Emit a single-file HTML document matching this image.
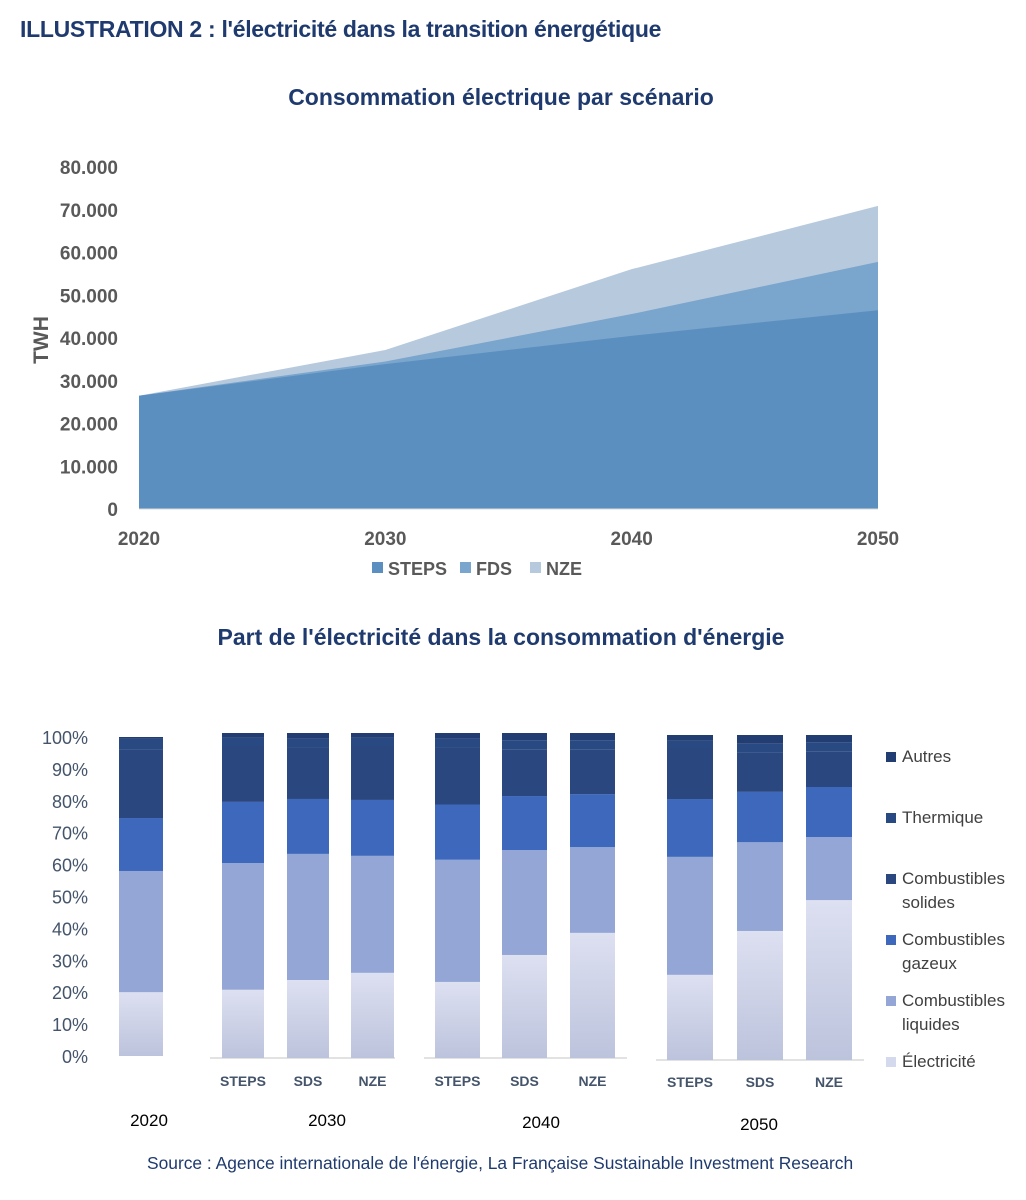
<!DOCTYPE html>
<html><head><meta charset="utf-8">
<style>
html,body{margin:0;padding:0;background:#fff;}
body{width:1026px;height:1200px;position:relative;overflow:hidden;font-family:"Liberation Sans",sans-serif;}
.t{position:absolute;white-space:nowrap;}
</style></head>
<body>
<div class="t" style="left:20px;top:16px;font-size:23px;font-weight:bold;color:#1f3a6e;letter-spacing:-0.3px">ILLUSTRATION 2 : l'électricité dans la transition énergétique</div>
<svg id="topchart" width="1026" height="600" style="position:absolute;left:0;top:0"></svg>
<svg id="botchart" width="1026" height="600" style="position:absolute;left:0;top:600px"></svg>
<div class="t" style="left:147px;top:1153px;font-size:17.4px;color:#1f3a6e">Source : Agence internationale de l'énergie, La Française Sustainable Investment Research</div>
<script>
const NS="http://www.w3.org/2000/svg";
// ---- top chart data
const years=[2020,2030,2040,2050];
const steps=[26500,33900,40500,46500];
const fds=[26500,34500,45600,57800];
const nze=[26500,37200,56100,70900];
const yTicks=[0,10000,20000,30000,40000,50000,60000,70000,80000];
const yTickLabels=["0","10.000","20.000","30.000","40.000","50.000","60.000","70.000","80.000"];
// ---- bottom chart data
const barCats=["2020","STEPS","SDS","NZE","STEPS","SDS","NZE","STEPS","SDS","NZE"];
const elec=[20,21,24,26.2,23.4,31.7,38.5,26.2,39.7,49.2];
const liquides=[38,39,38.8,36,37.6,32.3,26.4,36.3,27.3,19.4];
const gazeux=[16.6,18.8,16.9,17.2,17,16.6,16.3,17.8,15.5,15.4];
const solides=[21.6,17.2,15.7,16.6,17.4,14.4,13.8,15.7,12,11];
const thermique=[3.3,2.5,2.8,2.5,2.8,2.8,2.8,2.2,2.8,2.8];
const autres=[0.5,1.5,1.8,1.5,1.8,2.2,2.2,1.8,2.7,2.2];
const pctTicks=[0,10,20,30,40,50,60,70,80,90,100];

function el(svg,tag,attrs){const e=document.createElementNS(NS,tag);for(const k in attrs)e.setAttribute(k,attrs[k]);svg.appendChild(e);return e;}

const topSvg=document.getElementById('topchart');
const x0=139,x1=878,yb=509,yt=167;
const xs=i=>x0+(x1-x0)*(years[i]-2020)/30;
const ys=v=>yb-(yb-yt)*v/80000;
function area(vals,color,name){
  let d="M"+xs(0)+","+yb;
  vals.forEach((v,i)=>{d+=" L"+xs(i)+","+ys(v);});
  d+=" L"+xs(vals.length-1)+","+yb+" Z";
  const p=el(topSvg,'path',{d:d,fill:color});
  
  
}
area(nze,'#b7c9dd','area-nze');
area(fds,'#7aa5cc','area-fds');
area(steps,'#5b8fc0','area-steps');
el(topSvg,'line',{x1:x0,x2:x1,y1:yb,y2:yb,stroke:'#d9d9d9','stroke-width':1});
yTicks.forEach((v,i)=>{
  const t=el(topSvg,'text',{x:118,y:ys(v)+7,'text-anchor':'end','font-size':19,'font-weight':'bold',fill:'#595959'});
  t.textContent=yTickLabels[i];
  
  
});
years.forEach((y,i)=>{
  const t=el(topSvg,'text',{x:xs(i),y:545,'text-anchor':'middle','font-size':19,'font-weight':'bold',fill:'#595959'});
  t.textContent=y;
  
  
});
{const t=el(topSvg,'text',{x:0,y:0,transform:'translate(48,340) rotate(-90)','text-anchor':'middle','font-size':21,'font-weight':'bold',fill:'#595959'});t.textContent='TWH';

}
{const t=el(topSvg,'text',{x:501,y:105,'text-anchor':'middle','font-size':23,'font-weight':'bold',fill:'#1f3a6e'});t.textContent='Consommation électrique par scénario';

}
[['STEPS','#5b8fc0',372],['FDS','#7aa5cc',460],['NZE','#b7c9dd',530]].forEach(l=>{
  const r=el(topSvg,'rect',{x:l[2],y:562,width:11,height:11,fill:l[1]});
  
  
  const t=el(topSvg,'text',{x:l[2]+16,y:575,'font-size':18,'font-weight':'bold',fill:'#595959'});t.textContent=l[0];
  
  
});

const botSvg=document.getElementById('botchart');
const barX=[119,222,287,351,435,502,570,667,737,806];
const barW=[44,42,42,43,45,45,45,46,46,46];
const grp=[0,1,1,1,2,2,2,3,3,3];
const grpBase=[456,458,458,460];
const grpTop=[137,133,133,135];
const series=[elec,liquides,gazeux,solides,thermique,autres];
const serNames=['electricite','liquides','gazeux','solides','thermique','autres'];
const colors=['#d5d9ed','#93a6d6','#3e68bb','#2a4780','#294983','#223d72'];
const defs=el(botSvg,'defs',{});
const g1=el(defs,'linearGradient',{id:'gE',x1:0,y1:0,x2:0,y2:1});
el(g1,'stop',{offset:'0','stop-color':'#dde0f1'});el(g1,'stop',{offset:'1','stop-color':'#bcc3dc'});
{const t=el(botSvg,'text',{x:501,y:45,'text-anchor':'middle','font-size':23,'font-weight':'bold',fill:'#1f3a6e'});t.textContent="Part de l'électricité dans la consommation d'énergie";

}
pctTicks.forEach(p=>{
  const y=456-(456-137)*p/100;
  const t=el(botSvg,'text',{x:88,y:y+7,'text-anchor':'end','font-size':18,fill:'#44546a'});t.textContent=p+'%';
  
  
});
[[210,395,458],[424,627,458],[656,864,460]].forEach(a=>{
  const l=el(botSvg,'line',{x1:a[0],x2:a[1],y1:a[2],y2:a[2],stroke:'#d9d9d9','stroke-width':1.5});
  
  
});
barCats.forEach((c,i)=>{
  const g=grp[i],b=grpBase[g],sc=(grpBase[g]-grpTop[g])/100;
  let cum=0;
  series.forEach((s,k)=>{
    const v=s[i];const yT=b-(cum+v)*sc;const h=v*sc;
    const r=el(botSvg,'rect',{x:barX[i],y:yT,width:barW[i],height:h,fill:k===0?'url(#gE)':colors[k]});
    
    
    cum+=v;
  });
  if(i>0){
    const t=el(botSvg,'text',{x:barX[i]+barW[i]/2,y:g===3?487:486,'text-anchor':'middle','font-size':14,'font-weight':'bold',fill:'#44546a'});t.textContent=c;
    
    
  }
});
[['2020',149,526],['2030',327,526],['2040',541,528],['2050',759,530]].forEach(a=>{
  const t=el(botSvg,'text',{x:a[1],y:a[2],'text-anchor':'middle','font-size':17,fill:'#000'});t.textContent=a[0];
  
  
});
const leg=[['Autres',null,162],['Thermique',null,223],['Combustibles','solides',284],['Combustibles','gazeux',345],['Combustibles','liquides',406],['Électricité',null,467]];
const legCol=['#223d72','#294983','#2a4780','#3e68bb','#93a6d6','#d5d9ed'];
leg.forEach((l,i)=>{
  const r=el(botSvg,'rect',{x:886,y:l[2]-10,width:10,height:10,fill:legCol[i]});
  
  
  const t=el(botSvg,'text',{x:902,y:l[2],'font-size':17,fill:'#404040'});t.textContent=l[0];
  
  
  if(l[1]){const t2=el(botSvg,'text',{x:902,y:l[2]+24,'font-size':17,fill:'#404040'});t2.textContent=l[1];
  
  }
});
</script>
</body></html>
